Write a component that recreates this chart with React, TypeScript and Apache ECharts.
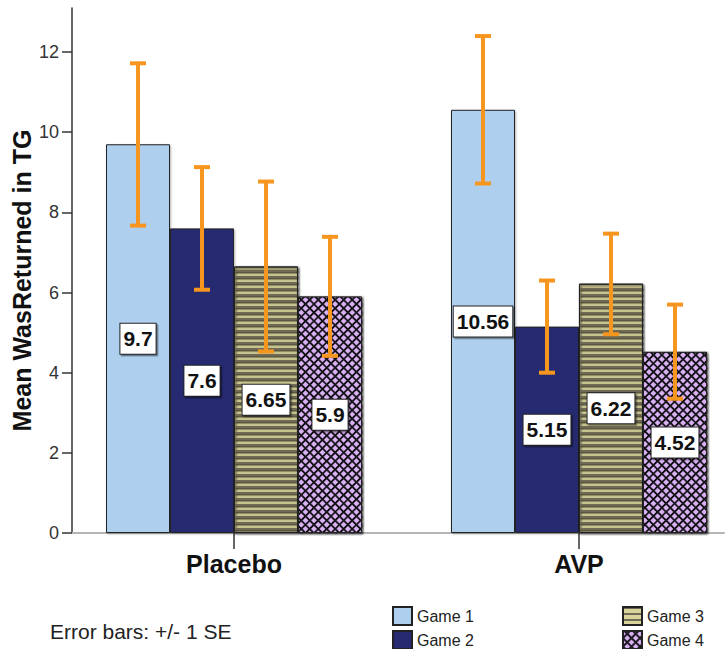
import React, { useEffect, useRef } from "react";
import * as echarts from "echarts";

const categories = ["Placebo", "AVP"];
const gameNames = ["Game 1", "Game 2", "Game 3", "Game 4"];
const game1 = [9.7, 10.56];
const game2 = [7.6, 5.15];
const game3 = [6.65, 6.22];
const game4 = [5.9, 4.52];
const game1Low = [7.67, 8.72];
const game1High = [11.72, 12.4];
const game2Low = [6.07, 4.0];
const game2High = [9.13, 6.3];
const game3Low = [4.53, 4.96];
const game3High = [8.77, 7.47];
const game4Low = [4.42, 3.35];
const game4High = [7.39, 5.7];
const yTicks = [0, 2, 4, 6, 8, 10, 12];

const FONT = "'Liberation Sans', Arial, sans-serif";
const BAR_W = 64;
const ORANGE = "#f7961f";

export default function App() {
  const ref = useRef<HTMLDivElement>(null);
  useEffect(() => {
    if (!ref.current) return;
    const chart = echarts.init(ref.current, null, { renderer: "svg" });
    const values = [game1, game2, game3, game4];
    const lows = [game1Low, game2Low, game3Low, game4Low];
    const highs = [game1High, game2High, game3High, game4High];
    const styles: any[] = [
      { color: "#aecfee" },
      { color: "#272a70" },
      {
        color: "#d8d49c",
        decal: {
          symbol: "rect",
          symbolSize: 1,
          color: "#6f6b55",
          dashArrayX: [1, 0],
          dashArrayY: [2, 3.5],
          rotation: 0,
        },
      },
      {
        color: "#1e1a22",
        decal: {
          symbol: "rect",
          symbolSize: 1,
          color: "#d9b0f4",
          dashArrayX: [3.4, 1.4],
          dashArrayY: [3.4, 1.4],
          rotation: Math.PI / 4,
        },
      },
    ];
    const barSeries = values.map((vals, gi) => ({
      type: "bar",
      name: gameNames[gi],
      barWidth: BAR_W,
      barGap: "0%",
      data: vals.map((v, ci) => [ci, v]),
      itemStyle: {
        ...styles[gi],
        borderColor: "#222",
        borderWidth: 1,
        shadowColor: "rgba(0,0,0,0.3)",
        shadowBlur: 2,
        shadowOffsetX: 1,
        shadowOffsetY: 1,
      },
      label: {
        show: true,
        position: "inside",
        formatter: (p: any) => String(p.value[1]),
        fontFamily: FONT,
        fontSize: 21,
        fontWeight: "bold",
        color: "#111",
        backgroundColor: "#fff",
        borderColor: "#222",
        borderWidth: 1,
        padding: [3, 3],
        lineHeight: 24,
        shadowColor: "rgba(0,0,0,0.45)",
        shadowOffsetX: 1.5,
        shadowOffsetY: 1.5,
        shadowBlur: 1,
      },
      z: 2,
    }));
    const errData: number[][] = [];
    values.forEach((vals, gi) => {
      vals.forEach((_, ci) => {
        errData.push([ci, gi, lows[gi][ci], highs[gi][ci]]);
      });
    });
    const errSeries = {
      type: "custom",
      name: "SE",
      data: errData,
      encode: { x: 0, y: [2, 3] },
      z: 5,
      renderItem: (params: any, api: any) => {
        const cat = api.value(0);
        const g = api.value(1);
        const lo = api.coord([cat, api.value(2)]);
        const hi = api.coord([cat, api.value(3)]);
        const x = lo[0] + (g - 1.5) * BAR_W;
        const style = { stroke: ORANGE, lineWidth: 4, fill: null };
        return {
          type: "group",
          children: [
            { type: "line", shape: { x1: x, y1: lo[1], x2: x, y2: hi[1] }, style },
            { type: "line", shape: { x1: x - 8, y1: hi[1], x2: x + 8, y2: hi[1] }, style },
            { type: "line", shape: { x1: x - 8, y1: lo[1], x2: x + 8, y2: lo[1] }, style },
          ],
        };
      },
    };
    const legendCommon = {
      orient: "vertical",
      icon: "rect",
      itemWidth: 19,
      itemHeight: 18,
      itemGap: 4,
      padding: 0,
      height: 50,
      textStyle: { fontFamily: FONT, fontSize: 16, lineHeight: 18, color: "#222" },
      selectedMode: false,
    };
    chart.setOption({
      animation: false,
      title: {
        text: "Error bars: +/- 1 SE",
        left: 50,
        top: 621,
        padding: 0,
        textStyle: { fontFamily: FONT, fontSize: 21, fontWeight: "normal", color: "#222" },
      },
      legend: [
        { ...legendCommon, data: [gameNames[0], gameNames[1]], left: 392, top: 606 },
        { ...legendCommon, data: [gameNames[2], gameNames[3]], left: 622, top: 606 },
      ],
      grid: { left: 72, right: 2, top: 8, bottom: 116, outerBoundsMode: "none", containLabel: false },
      xAxis: {
        type: "value",
        min: -0.4696,
        max: 1.4203,
        splitLine: { show: false },
        axisLine: { show: true, onZero: false, lineStyle: { color: "#b5b5b5", width: 2 } },
        axisTick: { show: true, customValues: [0, 1], length: 16, lineStyle: { color: "#333", width: 1.5 } },
        axisLabel: {
          customValues: [0, 1],
          formatter: (v: number) => categories[Math.round(v)] ?? "",
          fontFamily: FONT,
          fontSize: 25,
          fontWeight: "bold",
          color: "#111",
          margin: 18,
        },
      },
      yAxis: {
        type: "value",
        min: 0,
        max: 13.1,
        interval: 2,
        name: "Mean WasReturned in TG",
        nameLocation: "middle",
        nameGap: 38,
        nameMoveOverlap: false,
        nameTextStyle: {
          fontFamily: FONT,
          fontSize: 25,
          fontWeight: "bold",
          color: "#111",
          padding: [0, 20, 0, 0],
        },
        splitLine: { show: false },
        axisLine: { show: true, onZero: false, lineStyle: { color: "#333", width: 1.5 } },
        axisTick: { show: true, length: 10, lineStyle: { color: "#333", width: 1.5 }, customValues: yTicks },
        axisLabel: {
          customValues: yTicks,
          fontFamily: FONT,
          fontSize: 18,
          color: "#333",
          margin: 13,
        },
      },
      series: [...barSeries, errSeries],
    });
    return () => chart.dispose();
  }, []);
  return (
    <div
      ref={ref}
      style={{ position: "fixed", left: 0, top: 0, width: 726, height: 649, background: "#fff" }}
    />
  );
}
